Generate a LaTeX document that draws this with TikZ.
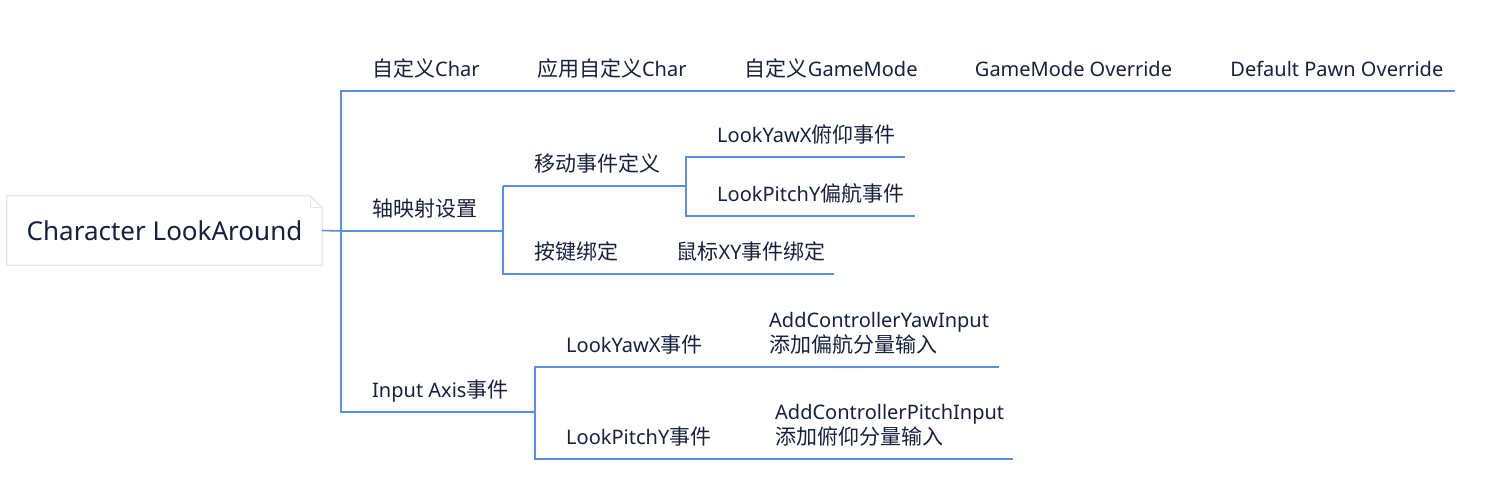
\documentclass[tikz,border=0pt]{standalone}
\usepackage{fontspec}
\setmainfont{Noto Sans}
\newfontfamily\zhfont[Scale=1.05]{Noto Sans CJK SC}
\newcommand\zh[1]{{\zhfont #1}}
\usepackage{tikz}
\usetikzlibrary{positioning,calc}
\usepackage{xcolor}
\definecolor{BranchBlue}{HTML}{5A8DE6}
\definecolor{TopicText}{HTML}{16203F}
\definecolor{RootFrame}{HTML}{E6E6E6}
\tikzset{
  rootnode/.style={minimum width=315pt,minimum height=69pt,inner sep=0pt,text=TopicText,font=\fontsize{26}{30}\selectfont},
  topicnode/.style={anchor=base west,inner sep=0pt,text=TopicText,font=\fontsize{20}{26}\selectfont},
  branch/.style={draw=BranchBlue,line width=1.6pt},
  rootframe/.style={draw=RootFrame,line width=1.2pt}
}
\begin{document}
\begin{tikzpicture}[x=1pt,y=-1pt]
\useasboundingbox (0,0) rectangle (1509,487);

% root
\node[rootnode] (root) at (164.5,230.5) {Character LookAround};
\draw[rootframe] (root.south west) -- (root.north west) -- ([xshift=-12pt]root.north east)
  -- ([yshift=-12pt]root.north east) -- (root.south east) -- cycle;
\draw[rootframe] ([xshift=-12pt]root.north east) |- ([yshift=-12pt]root.north east);

% first level
\node[topicnode] (char) at (372,76) {\zh{自定义}Char};
\node[topicnode,base right=57pt of char] (applychar) {\zh{应用自定义}Char};
\node[topicnode,base right=58pt of applychar] (gamemode) {\zh{自定义}GameMode};
\node[topicnode,base right=57pt of gamemode] (override) {GameMode Override};
\node[topicnode,base right=58pt of override] (pawn) {Default Pawn Override};
\node[topicnode] (axismap) at (372,216) {\zh{轴映射设置}};
\node[topicnode] (inputaxis) at (372,397) {Input Axis\zh{事件}};

% axis mapping
\node[topicnode] (movedef) at (534,171) {\zh{移动事件定义}};
\node[topicnode] (yawdef) at (717,142) {LookYawX\zh{俯仰事件}};
\node[topicnode] (pitchdef) at (717,201) {LookPitchY\zh{偏航事件}};
\node[topicnode] (keybind) at (534,259) {\zh{按键绑定}};
\node[topicnode,base right=58pt of keybind] (mousebind) {\zh{鼠标}XY\zh{事件绑定}};

% input axis events
\node[topicnode] (yawevt) at (566,352) {LookYawX\zh{事件}};
\node[topicnode,align=left] (yawinput) at (769,352) {AddControllerYawInput\\[-1pt]\zh{添加偏航分量输入}};
\node[topicnode] (pitchevt) at (566,444) {LookPitchY\zh{事件}};
\node[topicnode,align=left] (pitchinput) at (775,444) {AddControllerPitchInput\\[-1pt]\zh{添加俯仰分量输入}};

% underline ends
\foreach \n in {char,axismap,inputaxis,movedef,keybind,yawdef,pitchdef,yawevt,pitchevt}
  \path (\n.base west) ++(-31,15) coordinate (\n-l);
\foreach \n/\d in {pawn/11,mousebind/8,yawdef/9,pitchdef/10}
  \path (\n.base east) ++(\d,15) coordinate (\n-r);
\path ([xshift=10pt]yawinput.east |- yawevt-l) coordinate (yawinput-r)
      ([xshift=9pt]pitchinput.east |- pitchevt-l) coordinate (pitchinput-r);

% branches
\draw[branch] (root.east) -- (axismap-l) -- (movedef-l |- axismap-l);
\draw[branch] (pawn-r) -- (char-l) -- (inputaxis-l) -- (yawevt-l |- inputaxis-l);
\draw[branch] (movedef-l) -- (yawdef-l |- movedef-l);
\draw[branch] (yawdef-r) -- (yawdef-l) -- (pitchdef-l) -- (pitchdef-r);
\draw[branch] (mousebind-r) -- (keybind-l) -- (movedef-l);
\draw[branch] (yawinput-r) -- (yawevt-l) -- (pitchevt-l) -- (pitchinput-r);
\end{tikzpicture}
\end{document}
